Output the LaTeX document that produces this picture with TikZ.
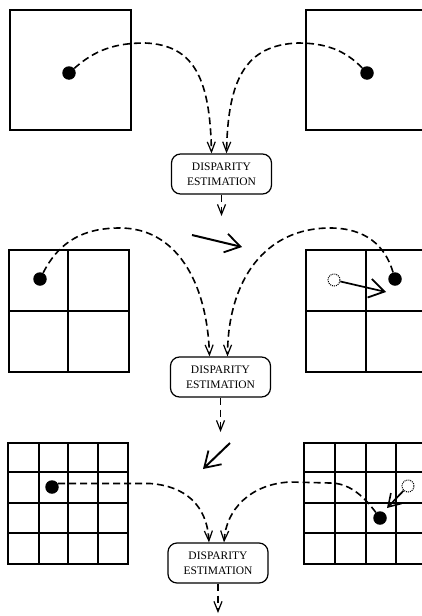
\documentclass[tikz,border=0pt]{standalone}
\usepackage{fontspec}
\setmainfont{Liberation Serif}
\usetikzlibrary{arrows.meta}
\tikzset{
  frame/.style={line width=1.4pt},
  dot/.style={circle, fill=black, inner sep=0pt, minimum size=13.5pt},
  ghost/.style={circle, draw, densely dotted, line width=1pt, inner sep=0pt, minimum size=12pt},
  estbox/.style={draw, line width=1.2pt, rounded corners=9pt, minimum width=100pt,
    minimum height=40pt, align=center, inner sep=0pt,
    font=\fontsize{11.5}{15.5}\selectfont},
  link/.style={line width=1.6pt, dash pattern=on 7pt off 4pt,
    -{Straight Barb[length=10pt,width=8pt,line width=1.2pt]}},
  outlink/.style={line width=1.3pt, dash pattern=on 7pt off 5pt,
    -{Straight Barb[length=10pt,width=8pt,line width=1.2pt]}},
  motion/.style={line width=2pt, -{Straight Barb[length=15pt,width=19pt,line width=1.8pt]}},
}
\begin{document}
\begin{tikzpicture}[x=1pt, y=-1pt]
\useasboundingbox (0,0) rectangle (421,616);

% ---- level 1: full images ----
\draw[frame] (10,10) rectangle (131,130);
\draw[frame] (306,10) rectangle (430,130);
\node[dot] (l1) at (69,73) {};
\node[dot] (r1) at (367,73) {};
\node[estbox] (b1) at (221.5,174) {DISPARITY\\ESTIMATION};
\coordinate (o1) at (221.5,216);

\draw[link] (l1) .. controls (95,50) and (115,43) .. (145,43)
  .. controls (195,45) and (210,80) .. ([xshift=-10pt]b1.north);
\draw[link] (r1) .. controls (345,50) and (325,43) .. (298,43)
  .. controls (245,45) and (228,80) .. ([xshift=5pt]b1.north);
\draw[outlink] (b1.south) -- (o1);

% ---- level 2: 2x2 blocks ----
\coordinate (m1s) at (192,235);
\coordinate (m1e) at (242,247);
\draw[motion] (m1s) -- (m1e);

\draw[frame] (9,250) rectangle (129,372);
\draw[frame] (68,250) -- (68,372) (9,311) -- (129,311);
\draw[frame] (306,250) rectangle (430,372);
\draw[frame] (366,250) -- (366,372) (306,311) -- (430,311);
\node[dot] (l2) at (40,279) {};
\node[dot] (r2) at (395,279) {};
\node[ghost] (g2) at (334,280) {};
\coordinate (g2e) at (386,292);
\draw[motion, line width=1.7pt] (g2) -- (g2e);
\node[estbox] (b2) at (220.5,377) {DISPARITY\\ESTIMATION};
\coordinate (o2) at (220.5,432);

\draw[link] (l2) .. controls (60,240) and (85,228) .. (120,228)
  .. controls (175,228) and (207,280) .. ([xshift=-11pt]b2.north);
\draw[link] (r2) .. controls (385,245) and (365,228) .. (330,228)
  .. controls (265,228) and (228,280) .. ([xshift=7pt]b2.north);
\draw[outlink] (b2.south) -- (o2);

% ---- level 3: 4x4 blocks ----
\coordinate (m2s) at (230,443);
\coordinate (m2e) at (203,469);
\draw[motion] (m2s) -- (m2e);

\draw[frame] (8,443) rectangle (128,564);
\foreach \x in {39,68,98} \draw[frame] (\x,443) -- (\x,564);
\foreach \y in {472,503,533} \draw[frame] (8,\y) -- (128,\y);
\draw[frame] (304,443) rectangle (430,564);
\foreach \x in {335,366,396,426} \draw[frame] (\x,443) -- (\x,564);
\foreach \y in {472,503,533} \draw[frame] (304,\y) -- (430,\y);
\node[dot] (l3) at (52,487) {};
\node[dot] (r3) at (380,518) {};
\node[ghost] (g3) at (408,486) {};
\coordinate (g3e) at (387,508);
\draw[motion, line width=1.7pt,
  -{Straight Barb[length=12pt,width=15pt,line width=1.6pt]}] (g3) -- (g3e);
\node[estbox] (b3) at (218,563) {DISPARITY\\ESTIMATION};
\coordinate (o3) at (218,613);

\draw[link] (l3.30) -- (150,483.5)
  .. controls (185,486) and (207,505) .. ([xshift=-9pt]b3.north);
\draw[link] (r3) .. controls (362,494) and (348,483) .. (330,483) -- (290,482)
  .. controls (250,484) and (226,510) .. ([xshift=6pt]b3.north);
\draw[outlink] (b3.south) -- (o3);
\end{tikzpicture}
\end{document}
